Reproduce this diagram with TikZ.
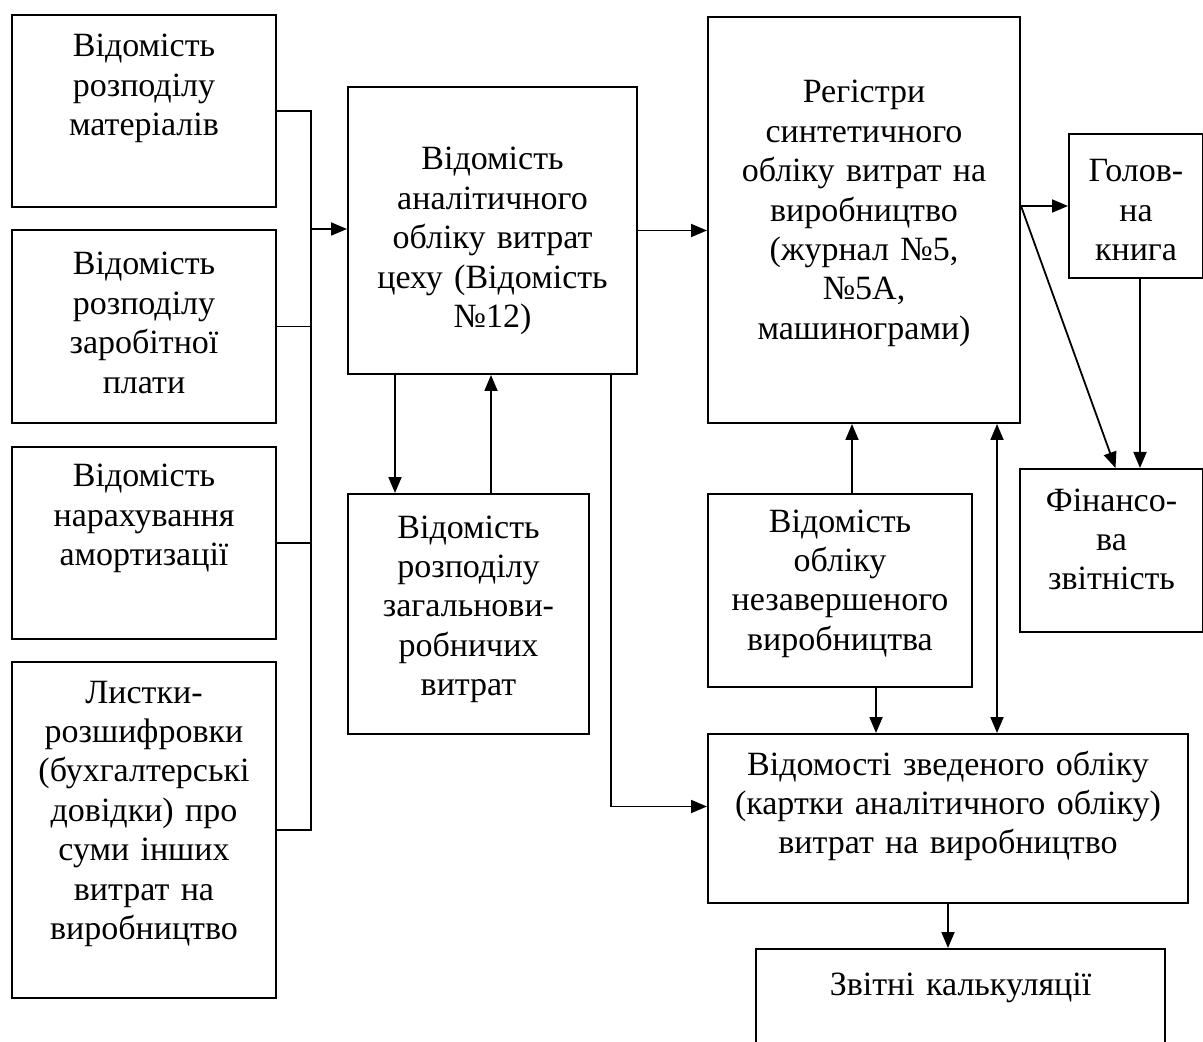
\documentclass[tikz,border=0pt]{standalone}
\usepackage{fontspec}
\setmainfont{Liberation Serif}
\usetikzlibrary{arrows.meta,positioning}

\begin{document}
\begin{tikzpicture}[x=0.5pt, y=-0.5pt, >={Triangle[length=8pt,width=6.5pt]},
  box/.style={draw, line width=1pt, anchor=north west, inner sep=0pt, align=center, font=\fontsize{17}{19.7}\selectfont},
  link/.style={line width=0.9pt}]
\useasboundingbox (0,0) rectangle (1203,1042);
\clip (0,0) rectangle (1203,1042);

% left column
\node (matr) [box, text width=132pt, text height=21pt, text depth=75pt] at (11,14) {Відомість\\розподілу\\матеріалів};
\node (zarpl) [box, text width=132pt, text height=22.5pt, text depth=74pt] at (11,229) {Відомість\\розподілу\\заробітної\\плати};
\node (amort) [box, text width=132pt, text height=20pt, text depth=76pt] at (11,446) {Відомість\\нарахування\\амортизації};
\node (lystky) [box, text width=132pt, text height=20.5pt, text depth=147.5pt] at (11,661) {Листки-\\розшифровки\\(бухгалтерські\\довідки) про\\суми інших\\витрат на\\виробництво};

% middle
\node (analit) [box, text width=144.5pt, text height=41.5pt, text depth=102pt] at (347,86) {Відомість\\аналітичного\\обліку витрат\\цеху (Відомість\\№12)};
\node (zahvyr) [box, text width=120.5pt, text height=22pt, text depth=98pt] at (347,493) {Відомість\\розподілу\\загальнови-\\робничих\\витрат};

% right
\node (reg) [box, text width=156pt, text height=43pt, text depth=160pt] at (707,16) {Регістри\\синтетичного\\обліку витрат на\\виробництво\\(журнал №5,\\№5А,\\машинограми)};
\node (holov) [box, text width=67pt, text height=24pt, text depth=48pt] at (1068,133) {Голов-\\на\\книга};
\node (fin) [box, text width=91.5pt, text height=21pt, text depth=60.5pt] at (1019,468) {Фінансо-\\ва\\звітність};
\node (nezav) [box, text width=132pt, text height=19pt, text depth=77.5pt] at (707,493) {Відомість\\обліку\\незавершеного\\виробництва};
\node (zved) [box, text width=240pt, text height=20.5pt, text depth=64pt] at (707,733) {Відомості зведеного обліку\\(картки аналітичного обліку)\\витрат на виробництво};
\node (kalk) [box, text width=204.5pt, text height=23pt, text depth=52pt] at (755,948) {Звітні калькуляції};

\coordinate (bus) at (311,229);

\draw [link] (matr.east) -| (bus) |- (lystky.east);
\draw [link] (zarpl.east) -- (zarpl.east -| bus);
\draw [link] (amort.east) -- (amort.east -| bus);
\draw [link,->] (bus) -- (bus -| analit.west);

\draw [link,->] (analit.east) -- (analit.east -| reg.west);
\draw [link,->] ([xshift=24pt]analit.south west) -- ([xshift=24pt]zahvyr.north west);
\draw [link,->] ([xshift=72pt]zahvyr.north west) -- ([xshift=72pt]analit.south west);
\draw [link,->] ([xshift=132pt]analit.south west) |- ([yshift=6pt]zved.west);

\draw [link,->] (holov.west -| reg.east) -- (holov.west);
\draw [link,->] (holov.west -| reg.east) -- ([xshift=2pt]fin.north);
\draw [link,->] ([xshift=2pt]holov.south) -- ([xshift=2pt]holov.south |- fin.north);

\draw [link,->] ([xshift=6pt]nezav.north) -- ([xshift=6pt]nezav.north |- reg.south);
\draw [link,->] ([xshift=18pt]nezav.south) -- ([xshift=18pt]nezav.south |- zved.north);
\draw [link,<->] ([xshift=-12pt]reg.south east) -- ([xshift=-12pt]reg.south east |- zved.north);
\draw [link,->] (zved.south) -- (zved.south |- kalk.north);
\end{tikzpicture}
\end{document}
